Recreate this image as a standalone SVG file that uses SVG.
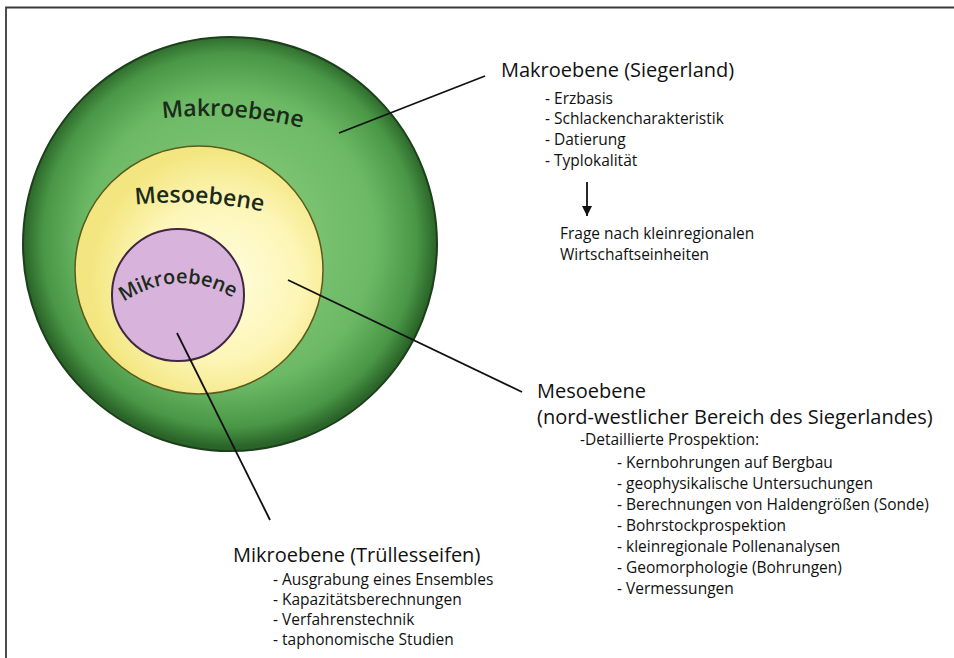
<svg xmlns="http://www.w3.org/2000/svg" width="954" height="658" viewBox="0 0 954 658">
<defs>
<radialGradient id="gMakro" cx="230" cy="240" r="207" gradientUnits="userSpaceOnUse">
<stop offset="0" stop-color="#8dcf7e"/>
<stop offset="0.7" stop-color="#6cb965"/>
<stop offset="0.9" stop-color="#4a9847"/>
<stop offset="1" stop-color="#2a6428"/>
</radialGradient>
<radialGradient id="gMeso" cx="220" cy="280" r="130" gradientUnits="userSpaceOnUse">
<stop offset="0" stop-color="#fffde0"/>
<stop offset="0.6" stop-color="#fdf6b8"/>
<stop offset="1" stop-color="#f3e680"/>
</radialGradient>
<marker id="arr" viewBox="0 0 10 10" refX="10" refY="5" markerWidth="10" markerHeight="10" markerUnits="userSpaceOnUse" orient="auto">
<path d="M0,0 L10,5 L0,10 z" fill="#111"/>
</marker>
<path id="pMakro" d="M150,120 Q232,108 314,131"/>
<path id="pMeso" d="M124,206 Q198,196 274,214"/>
<path id="pMikro" d="M110,312 Q178,257 247,307"/>
</defs>
<style>
.lab{font-family:"Open Sans","Noto Sans",sans-serif;fill:#111}
.h{font-size:20px}
.li{font-size:15.5px}
.cl{font-family:"Open Sans","Noto Sans",sans-serif;font-size:23px;font-weight:600;fill:#1c2a1c}
.con{stroke:#111;stroke-width:1.8;fill:none}
</style>
<rect width="954" height="658" fill="#fff"/>
<g id="frame">
<path d="M6,658 L6,7.5 L954,7.5" fill="none" stroke="#3a3a3a" stroke-width="1.8"/>
</g>
<g id="makro">
<circle cx="230" cy="244" r="207" fill="url(#gMakro)" stroke="#1e3f1c" stroke-width="2"/>
<text class="cl"><textPath href="#pMakro" startOffset="50%" text-anchor="middle">Makroebene</textPath></text>
</g>
<g id="meso">
<circle cx="199" cy="270" r="124" fill="url(#gMeso)" stroke="#5c5a1c" stroke-width="1.5"/>
<text class="cl"><textPath href="#pMeso" startOffset="50%" text-anchor="middle">Mesoebene</textPath></text>
</g>
<g id="mikro">
<circle cx="178" cy="295" r="66" fill="#d8b4dd" stroke="#3f2842" stroke-width="2"/>
<text class="cl" style="font-size:20px"><textPath href="#pMikro" startOffset="50%" text-anchor="middle">Mikroebene</textPath></text>
</g>
<g id="connectors">
<line class="con" x1="339" y1="133" x2="485" y2="76"/>
<line class="con" x1="288" y1="280" x2="522" y2="392"/>
<line class="con" x1="177" y1="333" x2="270" y2="520"/>
<line class="con" x1="587" y1="182" x2="587" y2="216" stroke-width="2" marker-end="url(#arr)"/>
</g>
<g id="makro-text" class="lab">
<text class="h" x="501" y="77">Makroebene (Siegerland)</text>
<text class="li" x="545" y="104">- Erzbasis</text>
<text class="li" x="545" y="124">- Schlackencharakteristik</text>
<text class="li" x="545" y="145">- Datierung</text>
<text class="li" x="545" y="166">- Typlokalität</text>
<text class="li" x="560" y="239">Frage nach kleinregionalen</text>
<text class="li" x="560" y="260">Wirtschaftseinheiten</text>
</g>
<g id="meso-text" class="lab">
<text class="h" x="537" y="398">Mesoebene</text>
<text class="h" x="537" y="424">(nord-westlicher Bereich des Siegerlandes)</text>
<text class="li" x="580" y="445">-Detaillierte Prospektion:</text>
<text class="li" x="617" y="468">- Kernbohrungen auf Bergbau</text>
<text class="li" x="617" y="489">- geophysikalische Untersuchungen</text>
<text class="li" x="617" y="510">- Berechnungen von Haldengrößen (Sonde)</text>
<text class="li" x="617" y="531">- Bohrstockprospektion</text>
<text class="li" x="617" y="552">- kleinregionale Pollenanalysen</text>
<text class="li" x="617" y="573">- Geomorphologie (Bohrungen)</text>
<text class="li" x="617" y="594">- Vermessungen</text>
</g>
<g id="mikro-text" class="lab">
<text class="h" x="233" y="562">Mikroebene (Trüllesseifen)</text>
<text class="li" x="273" y="585">- Ausgrabung eines Ensembles</text>
<text class="li" x="273" y="605">- Kapazitätsberechnungen</text>
<text class="li" x="273" y="625">- Verfahrenstechnik</text>
<text class="li" x="273" y="645">- taphonomische Studien</text>
</g>
</svg>
